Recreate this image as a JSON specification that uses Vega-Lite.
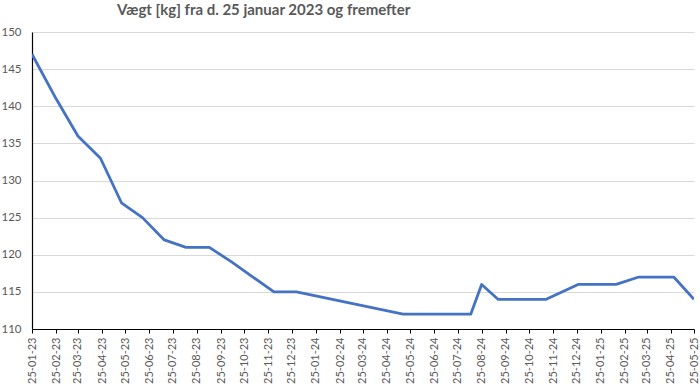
{
  "$schema": "https://vega.github.io/schema/vega-lite/v6.json",
  "width": 662,
  "height": 297,
  "autosize": "none",
  "padding": {"left": 32, "top": 32, "right": 6, "bottom": 60},
  "background": "white",
  "title": {
    "text": "Vægt [kg] fra d. 25 januar 2023 og fremefter",
    "anchor": "start",
    "frame": "group",
    "dx": 85,
    "offset": 8,
    "font": "Lato",
    "fontSize": 15,
    "fontWeight": "bold",
    "color": "#595959"
  },
  "config": {
    "view": {"stroke": null},
    "axis": {"labelFont": "Lato", "labelFontSize": 11, "labelColor": "#595959"}
  },
  "data": {
    "values": [
      {"dato": "2023-01-25", "vaegt": 147},
      {"dato": "2023-02-25", "vaegt": 141},
      {"dato": "2023-03-25", "vaegt": 136},
      {"dato": "2023-04-23", "vaegt": 133},
      {"dato": "2023-05-20", "vaegt": 127},
      {"dato": "2023-06-16", "vaegt": 125},
      {"dato": "2023-07-14", "vaegt": 122},
      {"dato": "2023-08-11", "vaegt": 121},
      {"dato": "2023-09-10", "vaegt": 121},
      {"dato": "2023-10-09", "vaegt": 119},
      {"dato": "2023-11-05", "vaegt": 117},
      {"dato": "2023-12-02", "vaegt": 115},
      {"dato": "2023-12-31", "vaegt": 115},
      {"dato": "2024-05-16", "vaegt": 112},
      {"dato": "2024-08-11", "vaegt": 112},
      {"dato": "2024-08-25", "vaegt": 116},
      {"dato": "2024-09-15", "vaegt": 114},
      {"dato": "2024-11-16", "vaegt": 114},
      {"dato": "2024-12-27", "vaegt": 116},
      {"dato": "2025-02-14", "vaegt": 116},
      {"dato": "2025-03-15", "vaegt": 117},
      {"dato": "2025-04-29", "vaegt": 117},
      {"dato": "2025-05-25", "vaegt": 114}
    ]
  },
  "mark": {"type": "line", "color": "#4472C4", "strokeWidth": 2.8, "strokeJoin": "round", "clip": true},
  "encoding": {
    "x": {
      "field": "dato",
      "type": "temporal",
      "title": null,
      "scale": {
        "type": "utc",
        "domain": [
          {"year": 2023, "month": 1, "date": 25, "utc": true},
          {"year": 2025, "month": 5, "date": 25, "utc": true}
        ]
      },
      "axis": {
        "labelExpr": "utcFormat(datum.value, '%d-%m-%y')",
        "labelAngle": 270,
        "labelPadding": 4,
        "tickSize": 4,
        "tickColor": "#000000",
        "domainColor": "#000000",
        "domainWidth": 1.2,
        "grid": false,
        "labelOverlap": false,
        "labelFlush": false,
        "values": [
          {"year": 2023, "month": 1, "date": 25, "utc": true},
          {"year": 2023, "month": 2, "date": 25, "utc": true},
          {"year": 2023, "month": 3, "date": 25, "utc": true},
          {"year": 2023, "month": 4, "date": 25, "utc": true},
          {"year": 2023, "month": 5, "date": 25, "utc": true},
          {"year": 2023, "month": 6, "date": 25, "utc": true},
          {"year": 2023, "month": 7, "date": 25, "utc": true},
          {"year": 2023, "month": 8, "date": 25, "utc": true},
          {"year": 2023, "month": 9, "date": 25, "utc": true},
          {"year": 2023, "month": 10, "date": 25, "utc": true},
          {"year": 2023, "month": 11, "date": 25, "utc": true},
          {"year": 2023, "month": 12, "date": 25, "utc": true},
          {"year": 2024, "month": 1, "date": 25, "utc": true},
          {"year": 2024, "month": 2, "date": 25, "utc": true},
          {"year": 2024, "month": 3, "date": 25, "utc": true},
          {"year": 2024, "month": 4, "date": 25, "utc": true},
          {"year": 2024, "month": 5, "date": 25, "utc": true},
          {"year": 2024, "month": 6, "date": 25, "utc": true},
          {"year": 2024, "month": 7, "date": 25, "utc": true},
          {"year": 2024, "month": 8, "date": 25, "utc": true},
          {"year": 2024, "month": 9, "date": 25, "utc": true},
          {"year": 2024, "month": 10, "date": 25, "utc": true},
          {"year": 2024, "month": 11, "date": 25, "utc": true},
          {"year": 2024, "month": 12, "date": 25, "utc": true},
          {"year": 2025, "month": 1, "date": 25, "utc": true},
          {"year": 2025, "month": 2, "date": 25, "utc": true},
          {"year": 2025, "month": 3, "date": 25, "utc": true},
          {"year": 2025, "month": 4, "date": 25, "utc": true},
          {"year": 2025, "month": 5, "date": 25, "utc": true}
        ]
      }
    },
    "y": {
      "field": "vaegt",
      "type": "quantitative",
      "title": null,
      "scale": {"domain": [110, 150], "nice": false, "zero": false},
      "axis": {
        "values": [110, 115, 120, 125, 130, 135, 140, 145, 150],
        "ticks": false,
        "labelPadding": 11,
        "labelFontSize": 11.5,
        "domainColor": "#000000",
        "domainWidth": 1.2,
        "gridColor": "#d9d9d9",
        "gridWidth": 1
      }
    }
  }
}
